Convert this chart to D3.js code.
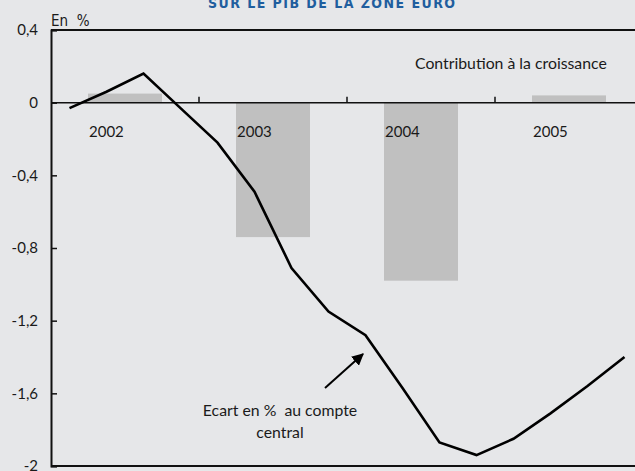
<!DOCTYPE html>
<html>
<head>
<meta charset="utf-8">
<script src="https://cdn.jsdelivr.net/npm/d3@7"></script>
<style>
  body { margin: 0; background: #e6e7e9; }
  svg { display: block; }
  text { white-space: pre; }
</style>
</head>
<body>
<svg width="635" height="471"></svg>
<script>
// yearly contribution bars
const years = [2002, 2003, 2004, 2005];
const contribution = [0.05, -0.74, -0.98, 0.04];

// quarterly gap to the central scenario, in %
const quarters = ["2002T1", "2002T2", "2002T3", "2002T4",
                  "2003T1", "2003T2", "2003T3", "2003T4",
                  "2004T1", "2004T2", "2004T3", "2004T4",
                  "2005T1", "2005T2", "2005T3", "2005T4"];
const ecart = [-0.03, 0.06, 0.16, -0.03,
               -0.22, -0.49, -0.91, -1.15,
               -1.28, -1.57, -1.87, -1.94,
               -1.85, -1.71, -1.56, -1.40];

// y axis ticks
const yTicks = [0.4, 0, -0.4, -0.8, -1.2, -1.6, -2];
const yTickLabels = ["0,4", "0", "-0,4", "-0,8", "-1,2", "-1,6", "-2"];

const svg = d3.select("svg");
const mLeft = 51, mTop = 30, mRight = 643, mBottom = 466;
const font = "Lato, sans-serif";

const x = d3.scaleLinear().domain([2002, 2006]).range([mLeft, mRight]);
const y = d3.scaleLinear().domain([0.4, -2]).range([mTop, mBottom]);

// quarter -> decimal year at the middle of the quarter
function qPos(q) {
  const yr = +q.slice(0, 4), n = +q.slice(5);
  return yr + (n - 0.5) / 4;
}

// bars
svg.append("g").selectAll("rect")
  .data(years)
  .join("rect")
  .attr("x", d => x(d + 0.25))
  .attr("width", d => x(d + 0.75) - x(d + 0.25))
  .attr("y", (d, i) => y(Math.max(0, contribution[i])))
  .attr("height", (d, i) => Math.abs(y(contribution[i]) - y(0)))
  .attr("fill", "#c0c0c0");

// frame: top and bottom lines
svg.append("line").attr("x1", mLeft).attr("x2", 635).attr("y1", mTop).attr("y2", mTop)
  .attr("stroke", "#111").attr("stroke-width", 2);
svg.append("line").attr("x1", mLeft).attr("x2", 635).attr("y1", mBottom).attr("y2", mBottom)
  .attr("stroke", "#111").attr("stroke-width", 2);

// zero line with year ticks
svg.append("line").attr("x1", mLeft).attr("x2", 635).attr("y1", y(0)).attr("y2", y(0))
  .attr("stroke", "#111").attr("stroke-width", 1.5);
svg.append("g").selectAll("line")
  .data(years.slice(1))
  .join("line")
  .attr("x1", d => x(d)).attr("x2", d => x(d))
  .attr("y1", y(0)).attr("y2", y(0) - 6)
  .attr("stroke", "#111").attr("stroke-width", 1.5);

// year labels
svg.append("g").selectAll("text")
  .data(years)
  .join("text")
  .attr("x", d => x(d + 0.25) + 1)
  .attr("y", y(0) + 34)
  .attr("font-family", font)
  .attr("font-size", 15)
  .attr("fill", "#1a1a1a")
  .text(d => d);

// y axis
const yAxis = d3.axisLeft(y)
  .tickValues(yTicks)
  .tickFormat((d, i) => yTickLabels[i])
  .tickSize(-6)
  .tickPadding(13);
const gy = svg.append("g").attr("transform", `translate(${mLeft},0)`).call(yAxis);
gy.select(".domain").attr("stroke", "#111").attr("stroke-width", 2);
gy.selectAll(".tick line").attr("stroke", "#111").attr("stroke-width", 1.5);
gy.selectAll(".tick text")
  .attr("font-family", font)
  .attr("font-size", 15)
  .attr("fill", "#1a1a1a");

// line
const line = d3.line()
  .x(d => x(qPos(d[0])))
  .y(d => y(d[1]));
svg.append("path")
  .datum(quarters.map((q, i) => [q, ecart[i]]))
  .attr("d", line)
  .attr("fill", "none")
  .attr("stroke", "#000")
  .attr("stroke-width", 2.6)
  .attr("stroke-linejoin", "miter");

// arrow
svg.append("defs").append("marker")
  .attr("id", "arrow")
  .attr("viewBox", "0 0 10 10")
  .attr("refX", 9).attr("refY", 5)
  .attr("markerWidth", 6).attr("markerHeight", 6)
  .attr("markerUnits", "strokeWidth")
  .attr("orient", "auto")
  .append("path").attr("d", "M0,0L10,5L0,10z").attr("fill", "#000");
svg.append("line")
  .attr("x1", 325).attr("y1", 388)
  .attr("x2", 363).attr("y2", 354)
  .attr("stroke", "#000").attr("stroke-width", 2)
  .attr("marker-end", "url(#arrow)");

// texts
svg.append("text")
  .attr("x", 415).attr("y", 69)
  .attr("font-family", font).attr("font-size", 15.8)
  .attr("fill", "#1a1a1a")
  .text("Contribution à la croissance");

const ann = svg.append("text")
  .attr("font-family", font).attr("font-size", 15.8)
  .attr("fill", "#1a1a1a")
  .attr("text-anchor", "middle");
ann.append("tspan").attr("x", 280).attr("y", 416).text("Ecart en %  au compte");
ann.append("tspan").attr("x", 280).attr("y", 438).text("central");

svg.append("text")
  .attr("x", 51).attr("y", 26)
  .attr("font-family", "'DejaVu Sans Condensed', 'DejaVu Sans', sans-serif")
  .attr("font-stretch", "condensed")
  .attr("font-size", 15)
  .attr("fill", "#1a1a1a")
  .text("En  %");

svg.append("text")
  .attr("x", 208).attr("y", 8)
  .attr("textLength", 247)
  .attr("lengthAdjust", "spacing")
  .attr("font-family", "'DejaVu Sans Condensed', 'DejaVu Sans', sans-serif")
  .attr("font-stretch", "condensed")
  .attr("font-weight", "bold")
  .attr("font-size", 14)
  .attr("fill", "#1f5e9e")
  .text("SUR LE PIB DE LA ZONE EURO");
</script>
</body>
</html>
